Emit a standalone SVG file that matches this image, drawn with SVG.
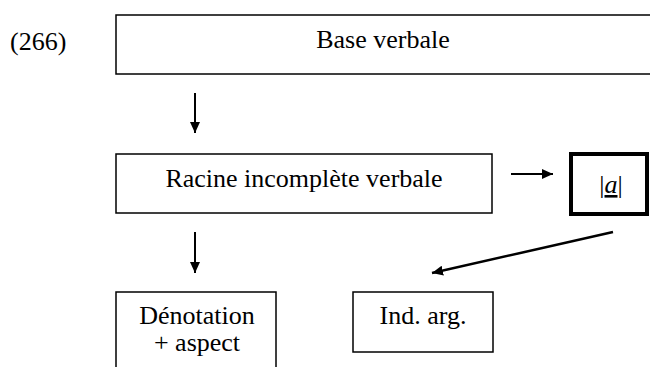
<svg xmlns="http://www.w3.org/2000/svg" width="650" height="367" viewBox="0 0 650 367">
<style>
.box{fill:#fff;stroke:#000;stroke-width:1.5}
.thick{fill:#fff;stroke:#000;stroke-width:4}
text{font-family:'Liberation Serif','Times New Roman',serif;font-size:26px;fill:#000}
.t{text-anchor:middle}
.c{stroke:#000;stroke-width:2;fill:none}
</style>
<defs>
<marker id="ah" markerUnits="userSpaceOnUse" markerWidth="11" markerHeight="10" refX="11" refY="5" orient="auto">
<path d="M0,0 L11,5 L0,10 z" fill="#000"/>
</marker>
</defs>
<rect width="650" height="367" fill="#fff"/>
<text x="10" y="50" font-size="28">(266)</text>
<g id="base">
<rect class="box" x="116" y="15" width="560" height="59"/>
<text class="t" x="383" y="48">Base verbale</text>
</g>
<g id="racine">
<rect class="box" x="116" y="154" width="376" height="59"/>
<text class="t" x="304" y="187">Racine incomplète verbale</text>
</g>
<g id="a">
<rect class="thick" x="571" y="154" width="76" height="60"/>
<text class="t" x="611" y="193">|<tspan font-style="italic" text-decoration="underline">a</tspan>|</text>
</g>
<g id="denotation">
<rect class="box" x="116" y="292" width="160" height="90"/>
<text class="t" x="197" y="324">Dénotation</text>
<text class="t" x="197" y="351">+ aspect</text>
</g>
<g id="indarg">
<rect class="box" x="353" y="292" width="140" height="60"/>
<text class="t" x="423" y="324">Ind. arg.</text>
</g>
<g id="connectors">
<line class="c" x1="195" y1="93" x2="195" y2="133" marker-end="url(#ah)"/>
<line class="c" x1="195" y1="232" x2="195" y2="273" marker-end="url(#ah)"/>
<line class="c" x1="511" y1="174" x2="553" y2="174" marker-end="url(#ah)"/>
<line class="c" x1="613" y1="232" x2="432" y2="273" style="stroke-width:2.5" marker-end="url(#ah)"/>
</g>
</svg>
